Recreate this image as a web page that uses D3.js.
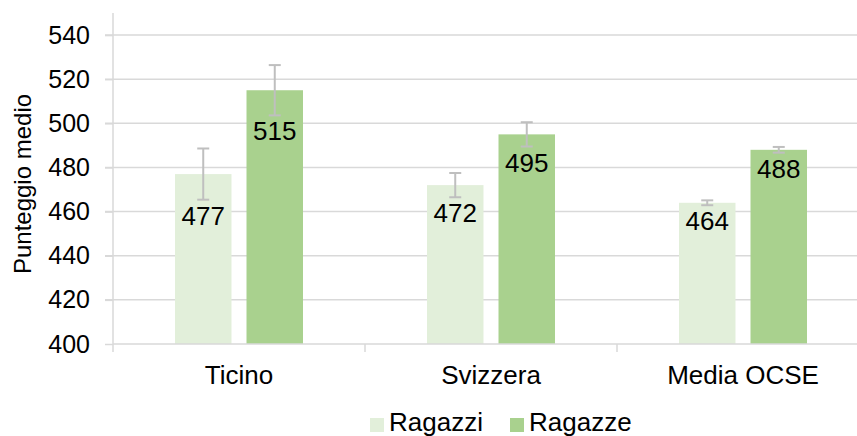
<!DOCTYPE html>
<html>
<head>
<meta charset="utf-8">
<script src="https://cdn.jsdelivr.net/npm/d3@7"></script>
<style>
  body { margin: 0; background: #fff; }
  svg text { font-family: Arial, "Liberation Sans", sans-serif; fill: #000; }
</style>
</head>
<body>
<svg></svg>
<script>
let categories = ['Ticino', 'Svizzera', 'Media OCSE']
let series = ['Ragazzi', 'Ragazze']
let ragazzi = [477, 472, 464]
let ragazze = [515, 495, 488]
let errRagazzi = [11.6, 5.5, 1.1]
let errRagazze = [11.4, 5.5, 1.3]
let yTicks = [400, 420, 440, 460, 480, 500, 520, 540]
let colors = ['#e2efda', '#a9d18e']

let width = 857
let height = 436
let plotLeft = 113
let plotTop = 13
let plotBottom = 344

let svg = d3.select('svg').attr('width', width).attr('height', height)

let yScale = d3.scaleLinear().domain([400, 550]).range([plotBottom, plotTop])

let xScale = d3.scaleBand().domain(categories).range([plotLeft, plotLeft + 252 * 3]).paddingInner(0)

let xSub = d3.scaleBand().domain(series).range([62, 190]).paddingInner(0.21)

let values = categories.map((c, i) => ({
    cat: c,
    items: [
        { s: series[0], v: ragazzi[i], e: errRagazzi[i] },
        { s: series[1], v: ragazze[i], e: errRagazze[i] }
    ]
}))

// gridlines
svg.append('g')
    .selectAll('line')
    .data(yTicks.slice(1))
    .enter()
    .append('line')
    .attr('x1', plotLeft - 8)
    .attr('x2', width)
    .attr('y1', d => yScale(d))
    .attr('y2', d => yScale(d))
    .attr('stroke', '#d9d9d9')
    .attr('stroke-width', 1.5)

// y axis
let yAxis = d3.axisLeft(yScale).tickValues(yTicks).tickSize(8).tickPadding(15)
let yg = svg.append('g').attr('transform', 'translate(' + plotLeft + ',0)').call(yAxis)
yg.select('.domain').remove()
yg.selectAll('.tick line').attr('stroke', '#d9d9d9').attr('stroke-width', 1.5)
yg.selectAll('.tick text').attr('font-size', 25).attr('font-family', 'Arial, "Liberation Sans", sans-serif')
yg.append('line')
    .attr('x1', 0).attr('x2', 0)
    .attr('y1', plotTop).attr('y2', plotBottom)
    .attr('stroke', '#d9d9d9').attr('stroke-width', 1.5)

// bars
let groups = svg.append('g')
    .selectAll('g')
    .data(values)
    .enter()
    .append('g')
    .attr('transform', d => 'translate(' + xScale(d.cat) + ',0)')

groups.selectAll('rect')
    .data(d => d.items)
    .enter()
    .append('rect')
    .attr('x', d => xSub(d.s))
    .attr('width', xSub.bandwidth())
    .attr('y', d => yScale(d.v))
    .attr('height', d => plotBottom - yScale(d.v))
    .attr('fill', (d, i) => colors[i])

// error bars
let eb = groups.selectAll('g.err')
    .data(d => d.items)
    .enter()
    .append('g')
    .attr('class', 'err')
    .attr('stroke', '#bfbfbf')
    .attr('stroke-width', 2)

let cx = d => xSub(d.s) + xSub.bandwidth() / 2
eb.append('line')
    .attr('x1', cx).attr('x2', cx)
    .attr('y1', d => yScale(d.v + d.e)).attr('y2', d => yScale(d.v - d.e))
eb.append('line')
    .attr('x1', d => cx(d) - 6).attr('x2', d => cx(d) + 6)
    .attr('y1', d => yScale(d.v + d.e)).attr('y2', d => yScale(d.v + d.e))
eb.append('line')
    .attr('x1', d => cx(d) - 6).attr('x2', d => cx(d) + 6)
    .attr('y1', d => yScale(d.v - d.e)).attr('y2', d => yScale(d.v - d.e))

// data labels
groups.selectAll('text.lbl')
    .data(d => d.items)
    .enter()
    .append('text')
    .attr('class', 'lbl')
    .attr('x', cx)
    .attr('y', d => yScale(d.v - d.e) + 25)
    .attr('text-anchor', 'middle')
    .attr('font-size', 26)
    .text(d => d.v)

// x axis
svg.append('line')
    .attr('x1', plotLeft).attr('x2', width)
    .attr('y1', plotBottom).attr('y2', plotBottom)
    .attr('stroke', '#d9d9d9').attr('stroke-width', 1.5)

svg.append('g')
    .selectAll('line')
    .data(categories)
    .enter()
    .append('line')
    .attr('x1', d => xScale(d)).attr('x2', d => xScale(d))
    .attr('y1', plotBottom).attr('y2', plotBottom + 8)
    .attr('stroke', '#d9d9d9').attr('stroke-width', 1.5)

svg.append('g')
    .selectAll('text')
    .data(categories)
    .enter()
    .append('text')
    .attr('x', d => xScale(d) + xScale.bandwidth() / 2)
    .attr('y', 384)
    .attr('text-anchor', 'middle')
    .attr('font-size', 26)
    .text(d => d)

// axis title
svg.append('text')
    .attr('transform', 'translate(31,184) rotate(-90)')
    .attr('text-anchor', 'middle')
    .attr('font-size', 24)
    .text('Punteggio medio')

// legend
let legendX = [370, 510]
let legend = svg.append('g')
    .selectAll('g')
    .data(series)
    .enter()
    .append('g')
    .attr('transform', (d, i) => 'translate(' + legendX[i] + ',418)')
legend.append('rect')
    .attr('width', 14).attr('height', 14)
    .attr('fill', (d, i) => colors[i])
legend.append('text')
    .attr('x', 19).attr('y', 13)
    .attr('font-size', 26)
    .text(d => d)
</script>
</body>
</html>
